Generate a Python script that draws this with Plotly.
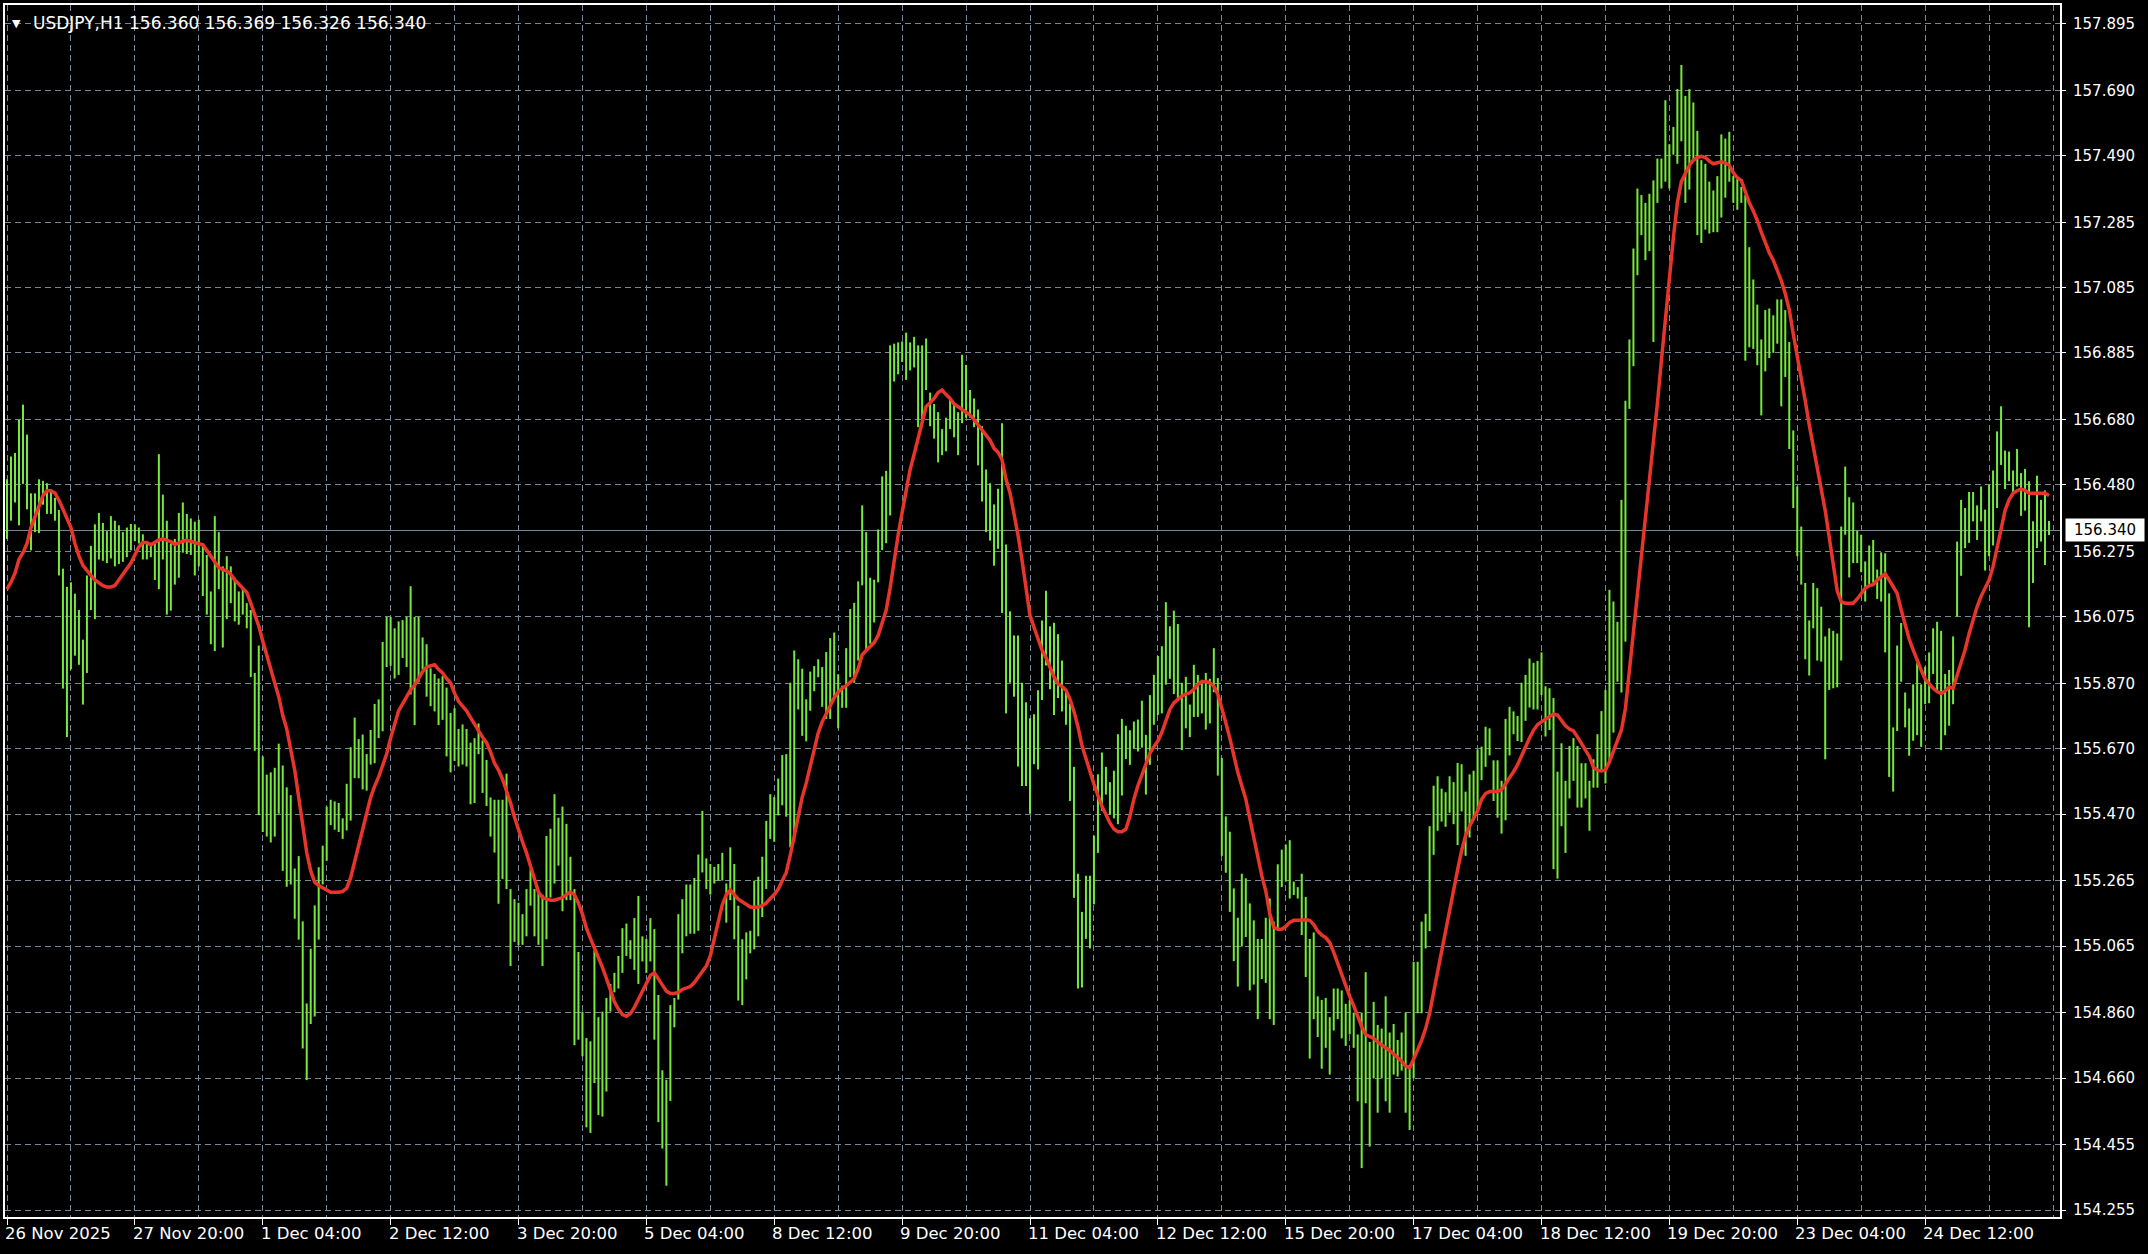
import plotly.graph_objects as go

# ---------------- data (USDJPY H1) ----------------
symbol_title = "USDJPY,H1 156.360 156.369 156.326 156.340"
last_price = 156.340

time_labels = ["26 Nov 2025", "27 Nov 20:00", "1 Dec 04:00", "2 Dec 12:00", "3 Dec 20:00",
               "5 Dec 04:00", "8 Dec 12:00", "9 Dec 20:00", "11 Dec 04:00", "12 Dec 12:00",
               "15 Dec 20:00", "17 Dec 04:00", "18 Dec 12:00", "19 Dec 20:00", "23 Dec 04:00",
               "24 Dec 12:00"]
time_label_bars = [0, 32, 64, 96, 128, 160, 192, 224, 256, 288, 320, 352, 384, 416, 448, 480]

price_labels = ["157.895", "157.690", "157.490", "157.285", "157.085", "156.885", "156.680",
                "156.480", "156.275", "156.075", "155.870", "155.670", "155.470", "155.265",
                "155.065", "154.860", "154.660", "154.455", "154.255"]

highs = [
    156.497, 156.567, 156.578, 156.679, 156.726, 156.634, 156.454, 156.454, 156.497, 156.492,
    156.485, 156.461, 156.440, 156.403, 156.223, 156.167, 156.181, 156.146, 156.096, 156.005,
    156.202, 156.293, 156.359, 156.394, 156.363, 156.338, 156.384, 156.370, 156.356, 156.335,
    156.349, 156.360, 156.359, 156.349, 156.328, 156.300, 156.300, 156.300, 156.574, 156.450,
    156.370, 156.300, 156.314, 156.394, 156.426, 156.391, 156.377, 156.367, 156.373, 156.300,
    156.265, 156.153, 156.384, 156.335, 156.230, 156.261, 156.230, 156.195, 156.153, 156.160,
    156.117, 156.096, 155.903, 155.987, 155.647, 155.591, 155.598, 155.612, 155.686, 155.619,
    155.552, 155.528, 155.303, 155.341, 155.141, 154.889, 155.057, 155.190, 155.307, 155.373,
    155.493, 155.514, 155.509, 155.504, 155.457, 155.563, 155.675, 155.766, 155.700, 155.714,
    155.654, 155.728, 155.808, 155.822, 155.998, 156.075, 156.075, 156.040, 156.061, 156.065,
    156.075, 156.169, 156.075, 156.075, 156.012, 155.991, 155.917, 155.900, 155.886, 155.893,
    155.858, 155.780, 155.795, 155.731, 155.745, 155.731, 155.689, 155.703, 155.748, 155.696,
    155.636, 155.521, 155.514, 155.514, 155.514, 155.594, 155.240, 155.209, 155.198,
    155.163, 155.240, 155.300, 155.240, 155.231, 155.223, 155.403, 155.425, 155.531, 155.459,
    155.493, 155.440, 155.339, 155.240, 155.047, 154.864, 154.783, 154.773, 155.052, 154.847,
    154.864, 154.906, 154.949, 154.983, 155.035, 155.120, 155.134, 155.083, 155.151, 155.219,
    155.095, 155.087, 155.151, 155.117, 154.915, 154.684, 154.655, 154.884, 154.906, 155.163,
    155.209, 155.254, 155.254, 155.274, 155.346, 155.480, 155.334, 155.317, 155.308, 155.317,
    155.351, 155.257, 155.368, 155.317, 155.189, 155.086, 155.107, 155.112, 155.266, 155.278,
    155.339, 155.449, 155.531, 155.522, 155.579, 155.651, 155.654, 155.873, 155.972, 155.945,
    155.916, 155.822, 155.907, 155.924, 155.945, 155.921, 155.967, 156.010, 156.027, 155.899,
    155.864, 155.979, 156.099, 156.118, 156.184, 156.417, 156.335, 156.195, 156.189, 156.343,
    156.506, 156.523, 156.908, 156.913, 156.917, 156.920, 156.947, 156.917, 156.934, 156.908,
    156.908, 156.929, 156.763, 156.728, 156.703, 156.651, 156.686, 156.745, 156.728, 156.703,
    156.879, 156.848, 156.771, 156.745, 156.711, 156.660, 156.527, 156.485, 156.420, 156.468,
    156.669, 156.297, 156.092, 156.018, 156.018, 155.873, 155.813,
    155.764, 155.776, 155.850, 156.064, 156.155, 156.046, 156.057, 156.022, 155.941, 155.844,
    155.809, 155.615, 155.287, 155.170, 155.281, 155.281, 155.404, 155.592, 155.659, 155.615,
    155.568, 155.603, 155.715, 155.762, 155.741, 155.727, 155.754, 155.760, 155.818, 155.713,
    155.835, 155.897, 155.955, 155.985, 156.120, 156.046, 156.094, 156.053, 155.873, 155.891,
    155.806, 155.928, 155.897, 155.882, 155.903, 155.885, 155.979, 155.887, 155.642, 155.463,
    155.416, 155.242, 155.152, 155.287, 155.273, 155.196, 155.144, 155.087, 155.087, 155.152,
    155.211, 155.140, 155.316, 155.361, 155.377, 155.390, 155.263, 155.246, 155.287, 155.216,
    155.087, 155.107, 154.911, 154.900, 154.906, 154.847, 154.935, 154.935, 154.929, 154.888,
    154.900, 154.861, 154.794, 154.861, 154.985, 154.771, 154.894, 154.823, 154.812, 154.911,
    154.800, 154.826, 154.777, 154.800, 154.861, 154.700, 155.017, 155.017, 155.140, 155.164,
    155.433, 155.557, 155.586, 155.548, 155.537, 155.586, 155.568, 155.627, 155.623, 155.539,
    155.592, 155.603, 155.668, 155.677, 155.738, 155.733, 155.635, 155.635, 155.572, 155.762,
    155.799, 155.785, 155.771, 155.873, 155.897, 155.947, 155.934, 155.940,
    155.966, 155.862, 155.856, 155.826, 155.600, 155.687, 155.572, 155.679, 155.703, 155.679,
    155.626, 155.626, 155.572, 155.638, 155.715, 155.786, 155.851, 156.158, 156.122, 156.060,
    156.434, 156.738, 156.926, 157.205, 157.389, 157.369, 157.345, 157.373, 157.414, 157.481,
    157.481, 157.660, 157.525, 157.578, 157.694, 157.768, 157.673, 157.694, 157.653, 157.566,
    157.476, 157.465, 157.410, 157.383, 157.427, 157.555, 157.542, 157.563, 157.427, 157.419,
    157.394, 157.369, 157.209, 157.110, 157.033, 156.926, 157.016, 157.021, 157.000, 157.049,
    157.049, 157.016, 156.918, 156.647, 156.475, 156.352, 156.179, 156.064, 156.179, 156.163,
    156.106, 156.015, 156.040, 156.032, 156.024, 156.352, 156.536, 156.442, 156.426, 156.339,
    156.327, 156.245, 156.294, 156.311, 156.220, 156.273, 156.270, 156.147, 155.736, 155.987,
    156.056, 155.843, 155.794, 155.868, 155.933, 155.868, 155.922, 155.966, 156.040, 156.060,
    156.032, 155.900, 155.912, 156.015, 156.306, 156.434, 156.409, 156.458, 156.458, 156.417,
    156.475, 156.404, 156.480, 156.524, 156.644, 156.721, 156.585, 156.582, 156.524, 156.590,
    156.516, 156.529, 156.491, 156.368, 156.508, 156.434, 156.463, 156.369,
]

lows = [
    156.314, 156.370, 156.426, 156.356, 156.483, 156.405, 156.279, 156.335, 156.332, 156.419,
    156.391, 156.391, 156.370, 156.202, 155.855, 155.706, 155.914, 155.956, 155.928, 155.806,
    155.903, 156.096, 156.068, 156.251, 156.247, 156.240, 156.254, 156.230, 156.237, 156.244,
    156.258, 156.279, 156.307, 156.300, 156.251, 156.251, 156.258, 156.188, 156.160, 156.251,
    156.082, 156.094, 156.174, 156.195, 156.272, 156.268, 156.265, 156.202, 156.230, 156.139,
    156.082, 155.991, 155.970, 156.160, 155.981, 156.068, 156.117, 156.061, 156.051, 156.082,
    156.040, 155.890, 155.664, 155.467, 155.415, 155.401, 155.383, 155.401, 155.471, 155.296,
    155.247, 155.254, 155.149, 155.085, 154.751, 154.654, 154.826, 154.849, 155.085, 155.254,
    155.327, 155.436, 155.422, 155.415, 155.394, 155.420, 155.450, 155.580, 155.580, 155.546,
    155.542, 155.622, 155.626, 155.703, 155.724, 155.921, 155.925, 155.886, 155.897, 155.949,
    155.921, 155.837, 155.743, 155.874, 155.914, 155.830, 155.801, 155.785, 155.743, 155.759,
    155.647, 155.598, 155.633, 155.616, 155.622, 155.616, 155.500, 155.504, 155.654, 155.535,
    155.495, 155.401, 155.352, 155.195, 155.271, 155.240, 155.004, 155.078, 155.068,
    155.069, 155.095, 155.189, 155.095, 155.069, 155.004, 155.086, 155.214, 155.257, 155.312,
    155.172, 155.206, 155.206, 154.761, 154.778, 154.727, 154.509, 154.492, 154.645, 154.547,
    154.542, 154.619, 154.864, 154.923, 154.935, 154.983, 155.035, 155.026, 154.992, 154.949,
    155.018, 154.983, 155.018, 154.778, 154.525, 154.444, 154.330, 154.590, 154.816, 154.901,
    155.043, 155.095, 155.103, 155.103, 155.112, 155.291, 155.240, 155.223, 155.257, 155.266,
    155.266, 155.137, 155.206, 155.086, 154.898, 154.884, 154.963, 155.043, 155.055, 155.095,
    155.154, 155.240, 155.394, 155.385, 155.466, 155.497, 155.462, 155.368, 155.385, 155.791,
    155.710, 155.693, 155.787, 155.847, 155.890, 155.799, 155.762, 155.762, 155.822, 155.733,
    155.796, 155.796, 155.890, 155.873, 155.941, 156.172, 155.976, 155.993, 156.058, 156.181,
    156.280, 156.301, 156.386, 156.797, 156.819, 156.857, 156.802, 156.831, 156.840, 156.657,
    156.677, 156.771, 156.660, 156.622, 156.549, 156.571, 156.583, 156.651, 156.626, 156.571,
    156.669, 156.686, 156.686, 156.657, 156.540, 156.429, 156.335, 156.309, 156.232, 156.284,
    156.087, 155.779, 155.873, 155.830, 155.616, 155.556, 155.556,
    155.471, 155.623, 155.607, 155.820, 155.926, 155.853, 155.774, 155.826, 155.785, 155.744,
    155.510, 155.213, 154.935, 154.938, 155.087, 155.058, 155.193, 155.351, 155.480, 155.530,
    155.469, 155.457, 155.439, 155.527, 155.639, 155.621, 155.670, 155.662, 155.674, 155.530,
    155.621, 155.744, 155.774, 155.779, 155.867, 155.885, 155.838, 155.820, 155.666, 155.733,
    155.706, 155.768, 155.768, 155.779, 155.729, 155.748, 155.844, 155.588, 155.342, 155.290,
    155.170, 155.019, 154.941, 155.064, 155.093, 154.929, 154.947, 154.841, 154.964, 154.952,
    154.841, 154.823, 155.117, 155.246, 155.263, 155.211, 155.222, 155.211, 155.099, 154.970,
    154.720, 154.841, 154.786, 154.689, 154.753, 154.671, 154.806, 154.841, 154.782, 154.759,
    154.794, 154.753, 154.589, 154.384, 154.583, 154.450, 154.659, 154.554, 154.659, 154.589,
    154.554, 154.671, 154.665, 154.683, 154.554, 154.501, 154.659, 154.859, 154.859, 155.058,
    155.111, 155.345, 155.419, 155.447, 155.431, 155.474, 155.439, 155.375, 155.478, 155.342,
    155.398, 155.451, 155.478, 155.574, 155.615, 155.650, 155.510, 155.459, 155.410, 155.451,
    155.650, 155.715, 155.694, 155.691, 155.756, 155.797, 155.791, 155.791,
    155.835, 155.708, 155.728, 155.301, 155.272, 155.433, 155.351, 155.518, 155.572, 155.490,
    155.490, 155.518, 155.419, 155.551, 155.551, 155.605, 155.564, 155.630, 155.720, 155.876,
    155.843, 155.999, 156.713, 156.844, 157.123, 157.246, 157.169, 157.197, 156.918, 157.345,
    157.389, 157.410, 157.389, 157.493, 157.465, 157.534, 157.345, 157.386, 157.476, 157.246,
    157.222, 157.263, 157.251, 157.255, 157.255, 157.300, 157.361, 157.410, 157.345, 157.324,
    157.345, 156.861, 156.902, 156.897, 156.847, 156.693, 156.828, 156.869, 156.885, 156.913,
    156.721, 156.811, 156.590, 156.409, 156.261, 156.174, 155.945, 155.895, 156.040, 155.941,
    155.938, 155.638, 155.851, 155.856, 155.859, 155.941, 156.327, 156.196, 156.240, 156.240,
    156.212, 156.122, 156.171, 156.180, 156.130, 156.122, 155.966, 155.584, 155.539, 155.725,
    155.876, 155.736, 155.649, 155.695, 155.712, 155.676, 155.807, 155.810, 155.900, 155.843,
    155.666, 155.712, 155.741, 155.807, 156.076, 156.201, 156.286, 156.302, 156.368, 156.311,
    156.368, 156.217, 156.261, 156.294, 156.409, 156.541, 156.467, 156.491, 156.450, 156.475,
    156.385, 156.401, 156.043, 156.179, 156.286, 156.306, 156.234, 156.326,
]

ma_values = [
    156.160, 156.181, 156.209, 156.251, 156.272, 156.300, 156.349, 156.384, 156.419, 156.447,
    156.462, 156.462, 156.455, 156.433, 156.405, 156.377, 156.349, 156.300, 156.262, 156.233,
    156.216, 156.202, 156.188, 156.178, 156.171, 156.167, 156.167, 156.171, 156.188, 156.209,
    156.223, 156.240, 156.265, 156.290, 156.303, 156.303, 156.296, 156.303, 156.311, 156.314,
    156.310, 156.306, 156.297, 156.303, 156.307, 156.310, 156.307, 156.304, 156.300, 156.296,
    156.279, 156.262, 156.244, 156.226, 156.220, 156.216, 156.206, 156.188, 156.176, 156.164,
    156.150, 156.117, 156.082, 156.047, 156.001, 155.956, 155.907, 155.872, 155.830, 155.773,
    155.731, 155.668, 155.605, 155.521, 155.436, 155.352, 155.296, 155.261, 155.251, 155.243,
    155.237, 155.230, 155.230, 155.230, 155.233, 155.243, 155.275, 155.324, 155.373, 155.429,
    155.478, 155.521, 155.556, 155.584, 155.619, 155.654, 155.703, 155.745, 155.787, 155.808,
    155.830, 155.851, 155.865, 155.886, 155.907, 155.921, 155.925, 155.928, 155.914, 155.903,
    155.886, 155.872, 155.841, 155.816, 155.801, 155.787, 155.766, 155.745, 155.724, 155.706,
    155.689, 155.661, 155.626, 155.605, 155.577, 155.542, 155.505, 155.460, 155.420,
    155.385, 155.351, 155.308, 155.266, 155.231, 155.214, 155.209, 155.206, 155.206, 155.211,
    155.214, 155.223, 155.231, 155.223, 155.197, 155.163, 155.120, 155.089, 155.060, 155.035,
    155.000, 154.966, 154.932, 154.894, 154.872, 154.855, 154.850, 154.858, 154.877, 154.901,
    154.927, 154.954, 154.975, 154.983, 154.966, 154.946, 154.927, 154.920, 154.920, 154.923,
    154.932, 154.937, 154.941, 154.953, 154.970, 154.987, 155.004, 155.035, 155.086, 155.146,
    155.192, 155.223, 155.237, 155.223, 155.209, 155.201, 155.192, 155.185, 155.184, 155.185,
    155.189, 155.197, 155.211, 155.223, 155.240, 155.266, 155.291, 155.343, 155.403, 155.471,
    155.522, 155.565, 155.616, 155.671, 155.719, 155.753, 155.779, 155.805, 155.827, 155.844,
    155.856, 155.864, 155.873, 155.885, 155.916, 155.959, 155.972, 155.984, 155.996, 156.018,
    156.053, 156.095, 156.164, 156.249, 156.326, 156.395, 156.463, 156.527, 156.574, 156.626,
    156.677, 156.720, 156.732, 156.745, 156.763, 156.771, 156.757, 156.745, 156.728, 156.720,
    156.711, 156.703, 156.694, 156.680, 156.665, 156.651, 156.634, 156.617, 156.592, 156.580,
    156.557, 156.497, 156.455, 156.395, 156.326, 156.249, 156.158,
    156.079, 156.043, 156.008, 155.973, 155.950, 155.920, 155.891, 155.870, 155.862, 155.850,
    155.823, 155.785, 155.738, 155.680, 155.639, 155.598, 155.562, 155.527, 155.494, 155.469,
    155.443, 155.424, 155.416, 155.416, 155.424, 155.463, 155.516, 155.557, 155.592, 155.621,
    155.656, 155.677, 155.694, 155.721, 155.760, 155.791, 155.811, 155.823, 155.832, 155.838,
    155.842, 155.853, 155.867, 155.876, 155.877, 155.873, 155.862, 155.838, 155.797, 155.750,
    155.703, 155.650, 155.598, 155.557, 155.516, 155.457, 155.398, 155.334, 155.281, 155.234,
    155.164, 155.123, 155.117, 155.117, 155.125, 155.138, 155.144, 155.144, 155.146, 155.146,
    155.144, 155.131, 155.111, 155.099, 155.091, 155.076, 155.046, 155.011, 154.976, 154.941,
    154.911, 154.882, 154.847, 154.818, 154.794, 154.788, 154.782, 154.771, 154.761, 154.753,
    154.745, 154.735, 154.724, 154.712, 154.697, 154.692, 154.718, 154.747, 154.776, 154.812,
    154.859, 154.923, 154.988, 155.052, 155.117, 155.175, 155.240, 155.299, 155.357, 155.404,
    155.433, 155.457, 155.480, 155.515, 155.533, 155.539, 155.539, 155.539, 155.545, 155.562,
    155.580, 155.600, 155.621, 155.650, 155.680, 155.703, 155.727, 155.744,
    155.753, 155.761, 155.769, 155.777, 155.774, 155.756, 155.741, 155.731, 155.725, 155.707,
    155.687, 155.666, 155.646, 155.613, 155.605, 155.602, 155.605, 155.630, 155.662, 155.695,
    155.728, 155.794, 155.909, 156.040, 156.155, 156.270, 156.376, 156.499, 156.614, 156.729,
    156.861, 156.992, 157.107, 157.238, 157.345, 157.410, 157.435, 157.460, 157.476, 157.484,
    157.488, 157.484, 157.473, 157.465, 157.468, 157.471, 157.468, 157.460, 157.438, 157.422,
    157.414, 157.378, 157.345, 157.320, 157.291, 157.255, 157.222, 157.192, 157.169, 157.140,
    157.107, 157.066, 157.017, 156.943, 156.877, 156.803, 156.738, 156.664, 156.598, 156.532,
    156.467, 156.401, 156.319, 156.237, 156.155, 156.122, 156.117, 156.117, 156.117, 156.130,
    156.147, 156.163, 156.171, 156.174, 156.188, 156.199, 156.207, 156.188, 156.168, 156.147,
    156.097, 156.048, 156.007, 155.974, 155.941, 155.912, 155.884, 155.868, 155.856, 155.846,
    155.840, 155.848, 155.859, 155.856, 155.895, 155.933, 155.974, 156.023, 156.065, 156.106,
    156.138, 156.163, 156.188, 156.229, 156.286, 156.344, 156.401, 156.434, 156.454, 156.462,
    156.467, 156.463, 156.454, 156.454, 156.454, 156.454, 156.454, 156.447,
]

# ---------------- styles ----------------
BAR_COLOR = "#76EA3A"
MA_COLOR = "#E8352B"
GRID_COLOR = "#778899"
FONT = "DejaVu Sans"

n = min(len(highs), len(lows))
bar_x, bar_y = [], []
for i in range(n):
    bar_x += [i, i, None]
    bar_y += [lows[i], highs[i], None]

fig = go.Figure()
fig.add_trace(go.Scatter(x=bar_x, y=bar_y, mode="lines",
                         line=dict(color=BAR_COLOR, width=2), hoverinfo="skip",
                         showlegend=False))
fig.add_trace(go.Scatter(x=list(range(len(ma_values))), y=ma_values, mode="lines",
                         line=dict(color=MA_COLOR, width=3.5), hoverinfo="skip",
                         showlegend=False))

# current price line
fig.add_shape(type="line", xref="paper", x0=0, x1=1, yref="y", y0=last_price, y1=last_price,
              line=dict(color=GRID_COLOR, width=1), layer="below")

price_vals = [float(p) for p in price_labels]

fig.update_layout(
    width=2148, height=1254, autosize=False,
    margin=dict(l=3, r=88, t=4, b=37, pad=0),
    paper_bgcolor="black", plot_bgcolor="black",
    font=dict(family=FONT, color="white", size=15),
    showlegend=False,
    xaxis=dict(
        range=[-0.5, 513.75], showline=True, linecolor="white", linewidth=2, mirror=True,
        tickmode="array", tickvals=time_label_bars, ticktext=[""] * len(time_label_bars),
        showticklabels=False, ticks="outside", ticklen=6, tickcolor="white", tickwidth=1,
        showgrid=True, gridcolor=GRID_COLOR, griddash="6px,4px", gridwidth=1,
        minor=dict(tickmode="linear", tick0=0, dtick=16, showgrid=True, gridcolor=GRID_COLOR,
                   griddash="6px,4px", gridwidth=1, ticks=""),
        zeroline=False, fixedrange=True,
    ),
    yaxis=dict(
        range=[154.234, 157.952], side="right", showline=True, linecolor="white", linewidth=2,
        mirror=True, tickmode="array", tickvals=price_vals, ticktext=price_labels,
        ticks="outside", ticklen=4, tickcolor="white", tickwidth=1,
        tickfont=dict(family=FONT, size=15, color="white"), ticklabelstandoff=4,
        showgrid=True, gridcolor=GRID_COLOR, griddash="6px,4px", gridwidth=1,
        zeroline=False, fixedrange=True,
    ),
)

annotations = []
for b, lab in zip(time_label_bars, time_labels):
    annotations.append(dict(x=b, y=0, xref="x", yref="paper", text=lab, showarrow=False,
                            xanchor="left", yanchor="top", xshift=-4, yshift=-5,
                            font=dict(family=FONT, size=16.5, color="white")))
annotations.append(dict(x=0, y=1, xref="paper", yref="paper", text="▼", showarrow=False,
                        xanchor="left", yanchor="top", xshift=5, yshift=-10,
                        font=dict(family=FONT, size=11, color="white")))
annotations.append(dict(x=0, y=1, xref="paper", yref="paper", text=symbol_title, showarrow=False,
                        xanchor="left", yanchor="top", xshift=26, yshift=-6,
                        font=dict(family=FONT, size=17, color="white")))
annotations.append(dict(x=1, y=last_price, xref="paper", yref="y", text=f"{last_price:.3f}",
                        showarrow=False, xanchor="left", yanchor="middle", xshift=5,
                        width=74, align="center", bgcolor="white", borderpad=2,
                        font=dict(family=FONT, size=15, color="black")))
fig.update_layout(annotations=annotations)

fig.write_html("out.html", config={"displayModeBar": False, "staticPlot": True},
               post_script="document.body.style.margin='0';document.body.style.background='black';")
